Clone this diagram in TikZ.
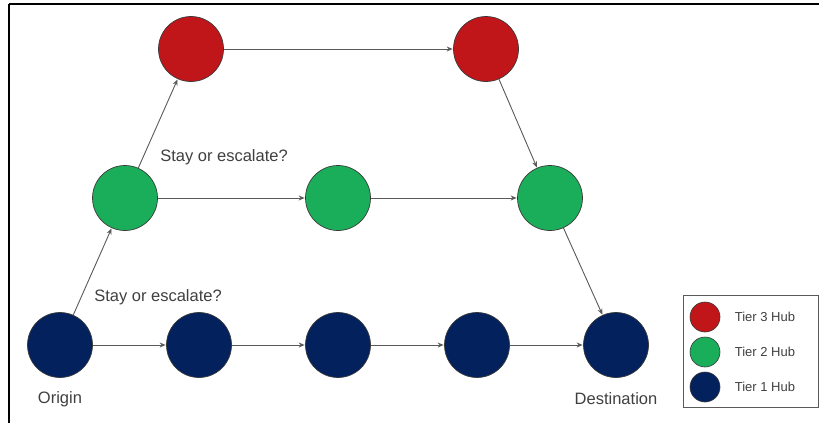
\documentclass[tikz,border=0pt]{standalone}
\usepackage{fontspec}
\setmainfont{Liberation Sans}
\usetikzlibrary{arrows.meta,positioning}
\definecolor{HubRed}{HTML}{C0161A}
\definecolor{HubGreen}{HTML}{1BAE5A}
\definecolor{HubNavy}{HTML}{03215C}
\definecolor{HubEdge}{HTML}{3A3A3A}
\definecolor{HubLine}{HTML}{5A5A5A}
\definecolor{HubText}{HTML}{404040}
\tikzset{
  hub/.style={circle,draw=HubEdge,line width=0.7pt,minimum size=65pt,inner sep=0pt},
  hubred/.style={hub,fill=HubRed},
  hubgreen/.style={hub,fill=HubGreen},
  hubnavy/.style={hub,fill=HubNavy},
  keydot/.style={circle,draw=HubEdge,line width=0.6pt,minimum size=30pt,inner sep=0pt},
  hop/.style={-{Stealth[length=6pt,width=5pt]},HubLine,line width=0.9pt,shorten >=0.5pt},
  label/.style={text=HubText,font=\fontsize{16.5}{19}\selectfont},
  keylabel/.style={text=HubText,font=\fontsize{13}{15}\selectfont,anchor=west},
}

\begin{document}
\begin{tikzpicture}[x=1pt,y=-1pt]
    \useasboundingbox (0,0) rectangle (819,423);
    \fill[white] (0,0) rectangle (819,423);

    % ------------------------------------------------------------ frame
    \draw[black,line width=1.8pt] (9,4) -- (819,4);
    \draw[black,line width=1.8pt] (9,4) -- (9,423);

    % ------------------------------------------------------------ tier 3
    \node[hubred] (r1) at (191,49) {};
    \node[hubred] (r2) at (486,49) {};

    % ------------------------------------------------------------ tier 2
    \node[hubgreen] (g1) at (125,198) {};
    \node[hubgreen] (g2) at (338,198) {};
    \node[hubgreen] (g3) at (550,198) {};

    % ------------------------------------------------------------ tier 1
    \node[hubnavy] (b1) at (60,345) {};
    \node[hubnavy] (b2) at (199,345) {};
    \node[hubnavy] (b3) at (338,345) {};
    \node[hubnavy] (b4) at (477,345) {};
    \node[hubnavy] (b5) at (616,345) {};

    % ------------------------------------------------------------ hops
    \draw[hop] (r1) -- (r2);
    \draw[hop] (g1) -- (g2);
    \draw[hop] (g2) -- (g3);
    \draw[hop] (b1) -- (b2);
    \draw[hop] (b2) -- (b3);
    \draw[hop] (b3) -- (b4);
    \draw[hop] (b4) -- (b5);
    \draw[hop] (b1) -- (g1);
    \draw[hop] (g1) -- (r1);
    \draw[hop] (r2) -- (g3);
    \draw[hop] (g3) -- (b5);

    % ------------------------------------------------------------ labels
    \node[label] (ask2) at (224,157) {Stay or escalate?};
    \node[label] (ask1) at (158,297) {Stay or escalate?};
    \node[label] (origin) at (60,399) {Origin};
    \node[label] (dest) at (616,399) {Destination};

    % ------------------------------------------------------------ legend
    \node[draw=HubLine,line width=0.8pt,minimum width=135pt,minimum height=112pt,
          inner sep=0pt] (key) at (750.5,351) {};
    \node[keydot,fill=HubRed]   (k3) at (705,317) {};
    \node[keydot,fill=HubGreen] (k2) at (705,352) {};
    \node[keydot,fill=HubNavy]  (k1) at (705,387) {};
    \node[keylabel,right=11pt of k3] {Tier 3 Hub};
    \node[keylabel,right=11pt of k2] {Tier 2 Hub};
    \node[keylabel,right=11pt of k1] {Tier 1 Hub};
  \end{tikzpicture}
\end{document}
